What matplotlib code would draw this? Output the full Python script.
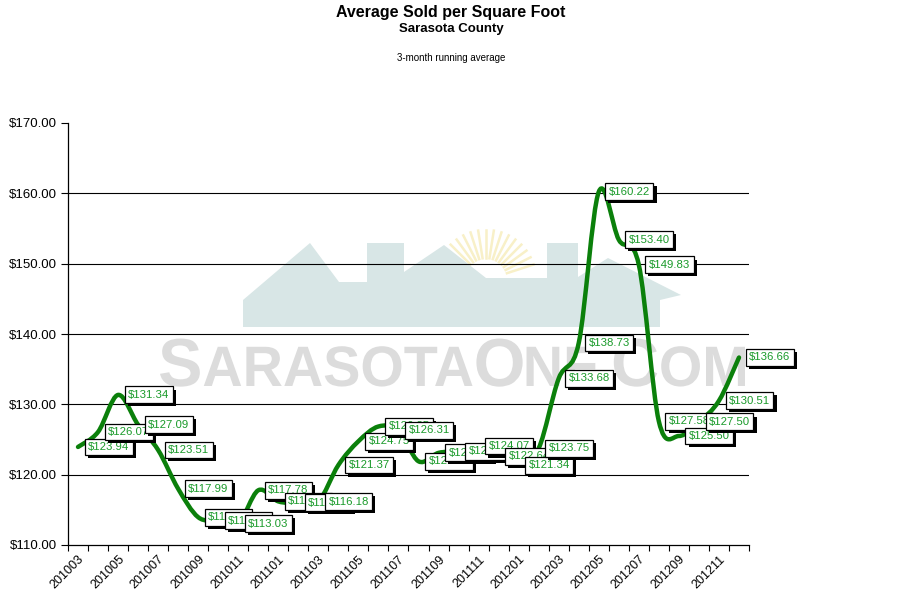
import numpy as np
import matplotlib
matplotlib.use("Agg")
import matplotlib.pyplot as plt
from matplotlib.path import Path
from matplotlib.patches import PathPatch, Polygon, Wedge
from matplotlib.textpath import TextPath
from matplotlib.font_manager import FontProperties
from matplotlib.transforms import Affine2D
from matplotlib.ticker import FuncFormatter, FixedLocator
import matplotlib.patheffects as pe

plt.rcParams['font.family'] = ['Liberation Sans', 'DejaVu Sans']

# data
months = ["201003", "201004", "201005", "201006", "201007", "201008",
          "201009", "201010", "201011", "201012", "201101", "201102",
          "201103", "201104", "201105", "201106", "201107", "201108",
          "201109", "201110", "201111", "201112", "201201", "201202",
          "201203", "201204", "201205", "201206", "201207", "201208",
          "201209", "201210", "201211", "201212"]
avg_sqft = [123.94, 126.07, 131.34, 127.09, 123.51, 117.99,
            113.95, 113.45, 113.03, 117.78, 116.20, 116.00,
            116.18, 121.37, 124.75, 126.85, 126.31, 121.90,
            123.10, 123.35, 124.07, 122.64, 121.34, 123.75,
            133.68, 138.73, 160.22, 153.40, 149.83, 127.58,
            125.50, 127.50, 130.51, 136.66]
yticks = [110, 120, 130, 140, 150, 160, 170]

W, H = 901, 611
fig = plt.figure(figsize=(W/100, H/100), dpi=100)
ax = fig.add_axes([68/W, 1-545/H, (749-68)/W, (545-123)/H])

# pixel transform (y down) for the watermark
px = Affine2D().scale(1/W, -1/H).translate(0, 1) + fig.transFigure

# --- watermark: house, sun, text
sun_c = (486, 280)
for a in np.arange(18, 165, 9):
    r = np.deg2rad(a)
    ax.plot([sun_c[0]+22*np.cos(r), sun_c[0]+50*np.cos(r)],
            [sun_c[1]-22*np.sin(r), sun_c[1]-50*np.sin(r)],
            color='#f8f0c8', lw=1.8, transform=px, zorder=0.3, clip_on=False)
ax.add_patch(Wedge(sun_c, 18, 0, 180, color='#f8f0c8', transform=px,
                   zorder=0.3, clip_on=False))
house = [(243, 327), (243, 300), (310, 243), (339, 282), (367, 282),
         (367, 243), (404, 243), (404, 272), (444, 245), (486, 278),
         (547, 278), (547, 243), (578, 243), (578, 277), (608, 258),
         (681, 295), (660, 300), (660, 327)]
ax.add_patch(Polygon(house, closed=True, fc='#d8e6e6', ec='none',
                     transform=px, zorder=0.4, clip_on=False))

prop_w = FontProperties(family='Liberation Sans', weight='bold')
groups = [("S", 68), ("ARASOTA", 57), ("O", 68), ("NE", 57), (".", 57),
          ("C", 68), ("OM", 57)]
parts = []
xcur = 0
for s, size in groups:
    tp = TextPath((0, 0), s, size=size, prop=prop_w)
    ext = tp.get_extents()
    v = tp.vertices.copy()
    v[:, 0] += xcur - ext.x0
    parts.append(Path(v, tp.codes))
    xcur += ext.width + 4
wm = Path.make_compound_path(*parts)
sx = (745 - 160) / (xcur - 4)
wm_tr = Affine2D().scale(sx, -1).translate(160, 386) + px
ax.add_patch(PathPatch(wm, fc='#dcdcdc', ec='none', transform=wm_tr,
                       zorder=0.5, clip_on=False))

# --- smooth line (Catmull-Rom as cubic Bezier segments)
n = len(avg_sqft)
pts = np.column_stack([np.arange(n), avg_sqft])
verts = [pts[0]]
codes = [Path.MOVETO]
for i in range(n - 1):
    p0 = pts[max(i-1, 0)]
    p1 = pts[i]
    p2 = pts[i+1]
    p3 = pts[min(i+2, n-1)]
    verts += [p1 + (p2-p0)/6, p2 - (p3-p1)/6, p2]
    codes += [Path.CURVE4]*3
ax.add_patch(PathPatch(Path(verts, codes), fc='none', ec='#0b800b', lw=3.2,
                       capstyle='round', joinstyle='round', zorder=3))

# --- value labels
for i, val in enumerate(avg_sqft):
    t = ax.annotate("$%.2f" % val, (i, val), xytext=(10, 0),
                    textcoords='offset pixels', ha='left', va='center',
                    fontsize=8.2, color='#1a9a2a',
                    bbox=dict(boxstyle='square,pad=0.3', fc='white',
                              ec='black', lw=0.9),
                    zorder=5+i, annotation_clip=False)
    t.get_bbox_patch().set_path_effects(
        [pe.SimplePatchShadow(offset=(2.2, -2.2), shadow_rgbFace='black',
                              alpha=1.0), pe.Normal()])

# --- axes
ax.set_xlim(-0.5, n - 0.5)
ax.set_ylim(yticks[0], yticks[-1])
ax.set_yticks(yticks)
ax.yaxis.set_major_formatter(FuncFormatter(lambda v, p: "$%.2f" % v))
ax.tick_params(axis='y', direction='out', length=5, width=0.8,
               labelsize=9.5, colors='black', pad=3)
ax.grid(axis='y', color='black', lw=0.8, zorder=1)
ax.get_ygridlines()[-1].set_visible(False)
ax.get_ygridlines()[0].set_visible(False)

ax.set_xticks(range(0, n, 2))
ax.set_xticklabels(months[::2], rotation=45, ha='right', va='top',
                   rotation_mode='anchor', fontsize=9)
ax.xaxis.set_minor_locator(FixedLocator(np.arange(-0.5, n, 1)))
ax.tick_params(axis='x', which='major', length=0, pad=6)
ax.tick_params(axis='x', which='minor', direction='out', length=4, width=0.8)

for s in ['top', 'right']:
    ax.spines[s].set_visible(False)
for s in ['left', 'bottom']:
    ax.spines[s].set_linewidth(0.9)
    ax.spines[s].set_zorder(2)

# --- titles
cx = 451 / W
fig.text(cx, 1-13/H, "Average Sold per Square Foot", ha='center', va='center',
         fontsize=11.5, fontweight='bold')
fig.text(cx, 1-29/H, "Sarasota County", ha='center', va='center',
         fontsize=9.5, fontweight='bold')
fig.text(cx, 1-58/H, "3-month running average", ha='center', va='center',
         fontsize=7)

fig.savefig("out.png", dpi=100)
